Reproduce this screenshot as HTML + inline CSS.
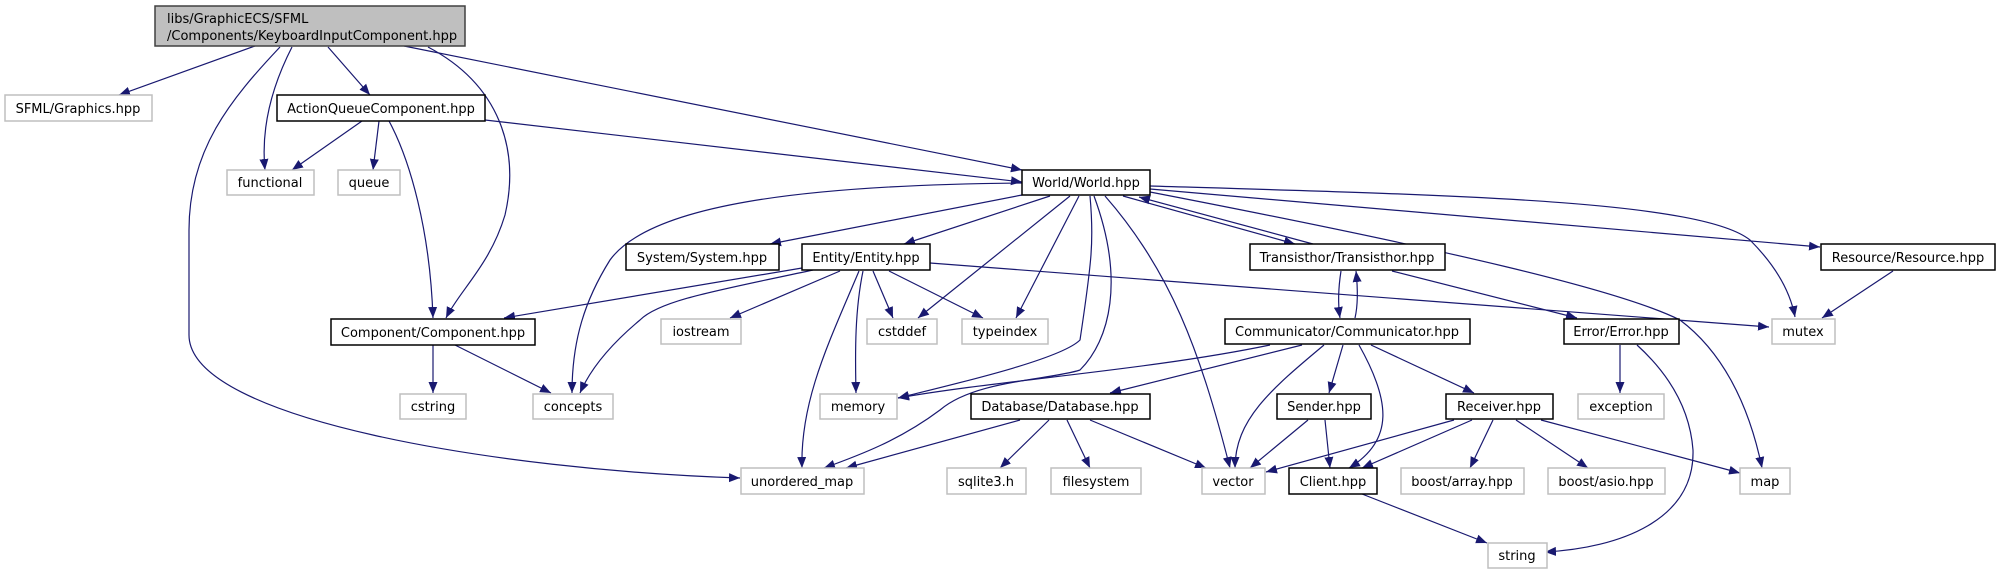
<!DOCTYPE html>
<html><head><meta charset="utf-8"><style>
html,body{margin:0;padding:0;background:#fff;}
svg{display:block;}
text{font-family:"DejaVu Sans","Liberation Sans",sans-serif;font-size:13px;fill:#000;}
.e{fill:none;stroke:#191970;stroke-width:1.2;}
.n{fill:#fff;stroke:#000;stroke-width:1.5;}
.x{fill:#fff;stroke:#bfbfbf;stroke-width:1.5;}
</style></head><body>
<svg width="2003" height="575" viewBox="0 0 2003 575" xmlns="http://www.w3.org/2000/svg">
<defs>
<marker id="a" markerWidth="12" markerHeight="10" refX="11" refY="5" orient="auto" markerUnits="userSpaceOnUse">
<path d="M0,0.5 L11,5 L0,9.5 z" fill="#191970"/>
</marker>
</defs>
<g class="e" marker-end="url(#a)">
<path d="M255,46 L119,95"/>
<path d="M292,47 C270,90 261,130 265,170"/>
<path d="M328,47 L370,95"/>
<path d="M428,47 C500,85 520,150 505,215 C490,265 460,290 446,318"/>
<path d="M404,46 L1022,170"/>
<path d="M280,47 C230,100 189,150 189,230 L189,335 C189,420 500,470 740,478"/>
<path d="M362,121 L292,170"/>
<path d="M379,121 L373,170"/>
<path d="M389,121 C410,160 430,230 433,318"/>
<path d="M485,120 L1022,182"/>
<path d="M433,345 L433,393"/>
<path d="M455,345 L551,393"/>
<path d="M1022,195 L770,244"/>
<path d="M1050,196 L904,244"/>
<path d="M1070,196 L918,318"/>
<path d="M1079,196 L1016,318"/>
<path d="M1090,196 C1094,240 1092,260 1080,340 C1060,360 950,385 898,398"/>
<path d="M1094,196 C1125,280 1110,340 1080,370 C1050,380 975,380 940,410 C900,440 860,455 824,468"/>
<path d="M1105,196 C1170,270 1200,350 1230,468"/>
<path d="M1022,183 C800,185 650,205 610,260 C585,300 572,340 572,393"/>
<path d="M1123,196 L1295,244"/>
<path d="M1313,244 L1139,197"/>
<path d="M1150,189 L1820,247"/>
<path d="M1150,186 C1450,195 1700,200 1750,240 C1775,265 1790,290 1795,317"/>
<path d="M1150,192 C1450,250 1620,290 1680,320 C1720,350 1748,400 1762,468"/>
<path d="M802,268 L504,318"/>
<path d="M813,270 C720,290 660,300 640,320 C610,345 590,370 580,393"/>
<path d="M840,271 L730,318"/>
<path d="M859,271 C830,340 800,400 802,468"/>
<path d="M863,271 C855,310 855,350 856,393"/>
<path d="M873,271 L893,318"/>
<path d="M889,271 L983,318"/>
<path d="M930,263 L1769,327"/>
<path d="M1341,271 C1338,290 1338,305 1340,318"/>
<path d="M1355,318 C1358,305 1358,290 1356,271"/>
<path d="M1392,271 L1577,318"/>
<path d="M1893,271 L1822,318"/>
<path d="M1270,345 C1150,370 1000,380 898,398"/>
<path d="M1302,345 L1110,393"/>
<path d="M1324,345 C1270,390 1235,420 1235,468"/>
<path d="M1343,345 L1329,393"/>
<path d="M1359,345 C1390,400 1395,440 1349,468"/>
<path d="M1371,345 L1474,393"/>
<path d="M1020,420 L846,468"/>
<path d="M1049,420 L1000,468"/>
<path d="M1067,420 L1090,468"/>
<path d="M1090,420 L1206,468"/>
<path d="M1308,420 L1250,468"/>
<path d="M1325,420 L1330,468"/>
<path d="M1454,420 L1266,472"/>
<path d="M1472,420 L1362,468"/>
<path d="M1493,420 L1470,468"/>
<path d="M1516,420 L1588,468"/>
<path d="M1541,420 L1740,473"/>
<path d="M1362,494 L1487,543"/>
<path d="M1620,345 L1620,393"/>
<path d="M1637,345 C1670,375 1690,410 1693,450 C1695,520 1620,548 1545,552"/>
</g>
<rect x="155" y="6" width="310" height="40" fill="#bfbfbf" stroke="#404040" stroke-width="1.5"/>
<text x="167" y="23">libs/GraphicECS/SFML</text>
<text x="167" y="40">/Components/KeyboardInputComponent.hpp</text>
<g text-anchor="middle">
<rect class="x" x="5" y="95" width="147" height="26"/><text x="78" y="113">SFML/Graphics.hpp</text>
<rect class="n" x="277" y="95" width="208" height="26"/><text x="381" y="113">ActionQueueComponent.hpp</text>
<rect class="x" x="227" y="170" width="87" height="25"/><text x="270" y="187">functional</text>
<rect class="x" x="338" y="170" width="62" height="25"/><text x="369" y="187">queue</text>
<rect class="n" x="1022" y="170" width="128" height="25"/><text x="1086" y="187">World/World.hpp</text>
<rect class="n" x="626" y="244" width="153" height="26"/><text x="702" y="262">System/System.hpp</text>
<rect class="n" x="802" y="244" width="128" height="26"/><text x="866" y="262">Entity/Entity.hpp</text>
<rect class="n" x="1250" y="244" width="195" height="26"/><text x="1347" y="262">Transisthor/Transisthor.hpp</text>
<rect class="n" x="1821" y="244" width="174" height="26"/><text x="1908" y="262">Resource/Resource.hpp</text>
<rect class="n" x="331" y="319" width="204" height="26"/><text x="433" y="337">Component/Component.hpp</text>
<rect class="x" x="661" y="319" width="80" height="25"/><text x="701" y="336">iostream</text>
<rect class="x" x="867" y="319" width="70" height="25"/><text x="902" y="336">cstddef</text>
<rect class="x" x="962" y="319" width="86" height="25"/><text x="1005" y="336">typeindex</text>
<rect class="n" x="1225" y="319" width="245" height="25"/><text x="1347" y="336">Communicator/Communicator.hpp</text>
<rect class="n" x="1564" y="319" width="115" height="25"/><text x="1621" y="336">Error/Error.hpp</text>
<rect class="x" x="1772" y="319" width="63" height="25"/><text x="1803" y="336">mutex</text>
<rect class="x" x="400" y="394" width="66" height="25"/><text x="433" y="411">cstring</text>
<rect class="x" x="533" y="394" width="80" height="25"/><text x="573" y="411">concepts</text>
<rect class="x" x="820" y="394" width="77" height="25"/><text x="858" y="411">memory</text>
<rect class="n" x="971" y="394" width="179" height="25"/><text x="1060" y="411">Database/Database.hpp</text>
<rect class="n" x="1277" y="394" width="94" height="25"/><text x="1324" y="411">Sender.hpp</text>
<rect class="n" x="1446" y="394" width="107" height="25"/><text x="1499" y="411">Receiver.hpp</text>
<rect class="x" x="1578" y="394" width="86" height="25"/><text x="1621" y="411">exception</text>
<rect class="x" x="741" y="468" width="123" height="26"/><text x="802" y="486">unordered_map</text>
<rect class="x" x="947" y="468" width="79" height="26"/><text x="986" y="486">sqlite3.h</text>
<rect class="x" x="1051" y="468" width="90" height="26"/><text x="1096" y="486">filesystem</text>
<rect class="x" x="1202" y="468" width="63" height="26"/><text x="1233" y="486">vector</text>
<rect class="n" x="1289" y="468" width="88" height="26"/><text x="1333" y="486">Client.hpp</text>
<rect class="x" x="1401" y="468" width="123" height="26"/><text x="1462" y="486">boost/array.hpp</text>
<rect class="x" x="1548" y="468" width="117" height="26"/><text x="1606" y="486">boost/asio.hpp</text>
<rect class="x" x="1740" y="468" width="50" height="26"/><text x="1765" y="486">map</text>
<rect class="x" x="1488" y="543" width="59" height="25"/><text x="1517" y="560">string</text>
</g>
</svg>
</body></html>
